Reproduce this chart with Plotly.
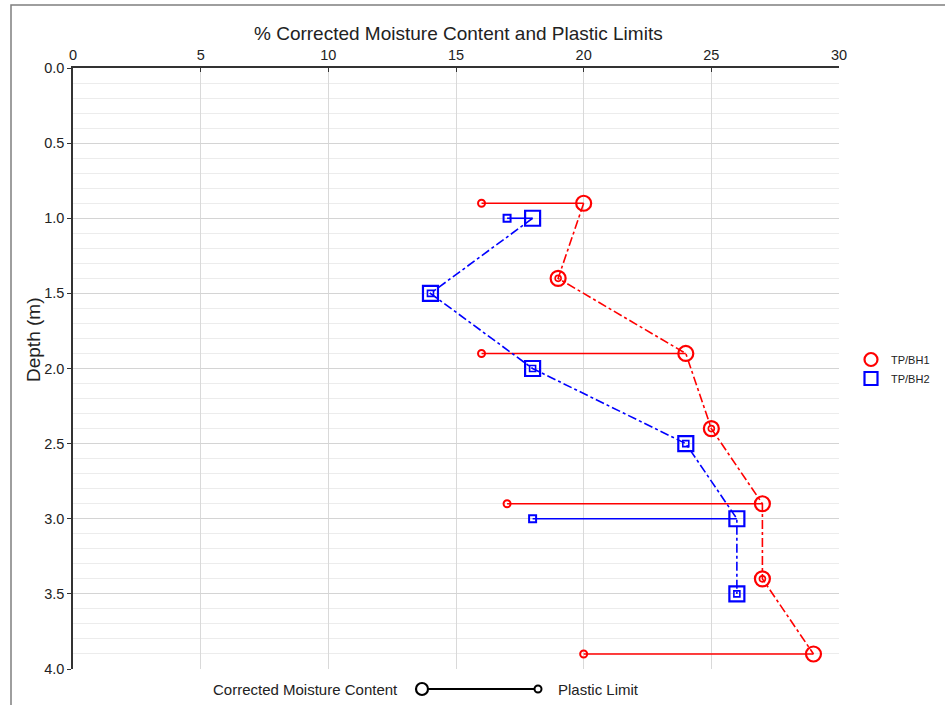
import plotly.graph_objects as go

# ---- data ----
bh1_name = "TP/BH1"
bh1_depth = [0.9, 1.4, 1.9, 2.4, 2.9, 3.4, 3.9]
bh1_mc = [20, 19, 24, 25, 27, 27, 29]
bh1_pl = [16, None, 16, None, 17, None, 20]

bh2_name = "TP/BH2"
bh2_depth = [1.0, 1.5, 2.0, 2.5, 3.0, 3.5]
bh2_mc = [18, 14, 18, 24, 26, 26]
bh2_pl = [17, None, None, None, 18, None]

x_ticks = [0, 5, 10, 15, 20, 25, 30]
y_ticks = [0.0, 0.5, 1.0, 1.5, 2.0, 2.5, 3.0, 3.5, 4.0]

fig = go.Figure()

def add_hole(name, depth, mc, pl, color, sym):
    # PL segments
    sx, sy = [], []
    for d, m, p in zip(depth, mc, pl):
        if p is not None:
            sx += [p, m, None]
            sy += [d, d, None]
    fig.add_trace(go.Scatter(x=sx, y=sy, mode="lines", line=dict(color=color, width=1.6),
                             showlegend=False, hoverinfo="skip"))
    # MC dash-dot line with big markers
    fig.add_trace(go.Scatter(x=mc, y=depth, mode="lines+markers", name=name,
                             line=dict(color=color, width=1.6, dash="dashdot"),
                             marker=dict(symbol=sym + "-open", size=15, color=color,
                                         line=dict(width=2.2, color=color)),
                             showlegend=False))
    # PL small markers
    px_ = [p for p in pl if p is not None]
    py_ = [d for d, p in zip(depth, pl) if p is not None]
    fig.add_trace(go.Scatter(x=px_, y=py_, mode="markers",
                             marker=dict(symbol=sym + "-open", size=7, color=color,
                                         line=dict(width=2, color=color)),
                             showlegend=False))
    # inner marker for points without PL
    nx = [m for m, p in zip(mc, pl) if p is None]
    ny = [d for d, p in zip(depth, pl) if p is None]
    fig.add_trace(go.Scatter(x=nx, y=ny, mode="markers",
                             marker=dict(symbol=sym + "-open", size=6, color=color,
                                         line=dict(width=1.6, color=color)),
                             showlegend=False))
    # legend entry
    fig.add_trace(go.Scatter(x=[None], y=[None], mode="markers", name=name,
                             marker=dict(symbol=sym + "-open", size=13, color=color,
                                         line=dict(width=2.2, color=color))))

add_hole(bh1_name, bh1_depth, bh1_mc, bh1_pl, "#ff0000", "circle")
add_hole(bh2_name, bh2_depth, bh2_mc, bh2_pl, "#0000ff", "square")

L, R, T, B = 73, 106, 68, 36
W, H = 945, 705
pw, ph = W - L - R, H - T - B

def px(x):
    return (x - L) / pw

def py(y):
    return (H - B - y) / ph

shapes = [
    # outer frame
    dict(type="rect", xref="paper", yref="paper", x0=px(11), x1=px(1000), y0=py(5), y1=py(760),
         line=dict(color="#7f7f7f", width=1.5), fillcolor="rgba(0,0,0,0)", layer="below"),
    # bottom legend line
    dict(type="line", xref="paper", yref="paper", x0=px(422), x1=px(538), y0=py(689), y1=py(689),
         line=dict(color="black", width=2)),
    dict(type="circle", xref="paper", yref="paper", xsizemode="pixel", ysizemode="pixel",
         xanchor=px(422), yanchor=py(689), x0=-6, x1=6, y0=-6, y1=6,
         line=dict(color="black", width=2.2), fillcolor="white"),
    dict(type="circle", xref="paper", yref="paper", xsizemode="pixel", ysizemode="pixel",
         xanchor=px(538), yanchor=py(689), x0=-3.5, x1=3.5, y0=-3.5, y1=3.5,
         line=dict(color="black", width=2), fillcolor="white"),
]

annotations = [
    dict(text="% Corrected Moisture Content and Plastic Limits", xref="paper", yref="paper",
         x=px(458), y=py(33), showarrow=False, font=dict(size=19, color="#222"), xanchor="center", yanchor="middle"),
    dict(text="Depth (m)", xref="paper", yref="paper", x=px(33), y=py(340), textangle=-90,
         showarrow=False, font=dict(size=19, color="#222"), xanchor="center", yanchor="middle"),
    dict(text="Corrected Moisture Content", xref="paper", yref="paper", x=px(400), y=py(689),
         showarrow=False, font=dict(size=15, color="#222"), xanchor="right", yanchor="middle"),
    dict(text="Plastic Limit", xref="paper", yref="paper", x=px(556), y=py(689),
         showarrow=False, font=dict(size=15, color="#222"), xanchor="left", yanchor="middle"),
]

fig.update_layout(
    width=W, height=H,
    margin=dict(l=L, r=R, t=T, b=B, autoexpand=False),
    paper_bgcolor="white", plot_bgcolor="white",
    font=dict(family="Liberation Sans, Arial, sans-serif", size=14, color="#222"),
    shapes=shapes, annotations=annotations,
    legend=dict(x=px(851), y=py(345), xanchor="left", yanchor="top",
                font=dict(size=11, color="#222"), tracegroupgap=0, itemwidth=30,
                bgcolor="rgba(0,0,0,0)"),
    xaxis=dict(side="top", range=[0, 30], tickvals=x_ticks, ticktext=[str(v) for v in x_ticks],
               showgrid=True, gridcolor="#d9d9d9", gridwidth=1,
               showline=True, linecolor="#333", linewidth=1.5, ticks="inside", ticklen=4,
               tickcolor="#333", zeroline=False, tickfont=dict(size=14.5)),
    yaxis=dict(range=[4.0, 0.0], tickvals=y_ticks, ticktext=[f"{v:.1f}" for v in y_ticks],
               showgrid=True, gridcolor="#d4d4d4", gridwidth=1,
               minor=dict(dtick=0.1, tick0=0, showgrid=True, gridcolor="#ececec", gridwidth=1),
               showline=True, linecolor="#333", linewidth=1.5, ticks="outside", ticklen=4,
               tickcolor="#333", zeroline=False, tickfont=dict(size=14.5)),
)

fig.write_html("out.html")
